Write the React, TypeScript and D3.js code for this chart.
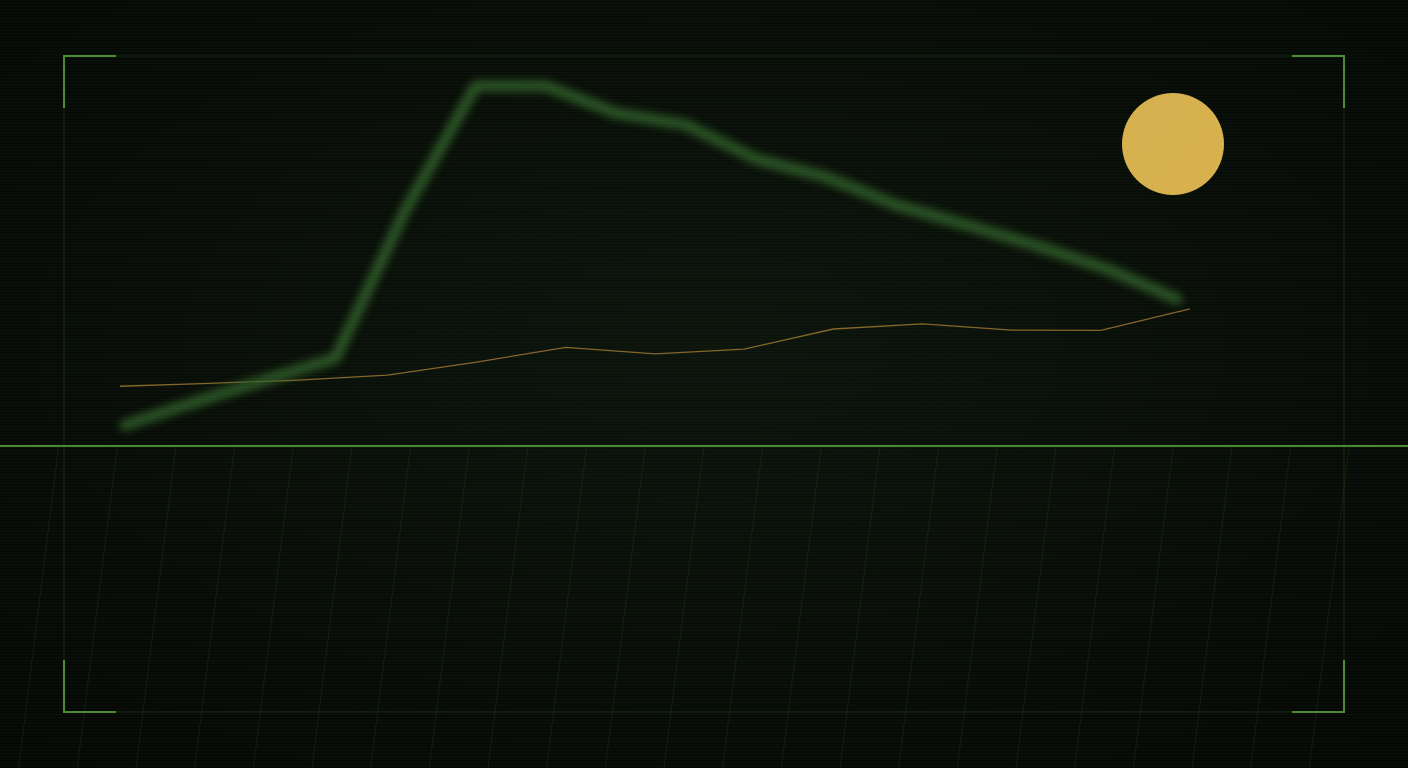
import { useRef, useEffect } from "react";
import * as d3 from "d3";

// glowing green series (16 points) and thin amber series (13 points)
const GREEN_VALUES = [5.8, 12.2, 18.3, 24.4, 65.6, 100, 100, 92.5, 89.2, 79.7, 74.7, 66.9, 61.4, 55.6, 49.2, 40.8];
const AMBER_VALUES = [16.6, 17.4, 18.3, 19.7, 23.3, 27.4, 25.6, 26.9, 32.5, 33.9, 32.2, 32.1, 38.1];
const GRID_COLUMNS = d3.range(0, 24);

const W = 1408;
const H = 768;

export default function App() {
  const ref = useRef<SVGSVGElement>(null);

  useEffect(() => {
    if (!ref.current) return;
    const svg = d3.select(ref.current);
    svg.selectAll("*").remove();

    const frame = { left: 64, top: 56, right: 1344, bottom: 712 };
    const horizon = 446;

    const defs = svg.append("defs");
    const bg = defs.append("radialGradient").attr("id", "bg").attr("cx", "50%").attr("cy", "45%").attr("r", "70%");
    bg.append("stop").attr("offset", "0%").attr("stop-color", "#0c130c");
    bg.append("stop").attr("offset", "100%").attr("stop-color", "#050805");

    const scan = defs.append("pattern").attr("id", "scan").attr("width", 4).attr("height", 3).attr("patternUnits", "userSpaceOnUse");
    scan.append("rect").attr("width", 4).attr("height", 1).attr("fill", "rgba(70,120,50,0.07)");

    defs.append("filter").attr("id", "glow").attr("x", "-10%").attr("y", "-10%").attr("width", "120%").attr("height", "120%")
      .append("feGaussianBlur").attr("stdDeviation", 4);

    const moonGrad = defs.append("linearGradient").attr("id", "moon").attr("x1", "0").attr("y1", "0").attr("x2", "1").attr("y2", "1");
    moonGrad.append("stop").attr("offset", "0%").attr("stop-color", "#d6af50");
    moonGrad.append("stop").attr("offset", "100%").attr("stop-color", "#d9b24e");

    // background
    svg.append("rect").attr("width", W).attr("height", H).attr("fill", "url(#bg)");

    // slanted ground grid below the horizon
    const colX = d3.scaleLinear().domain([0, 24]).range([0, W]);
    svg.append("g").selectAll("line").data(GRID_COLUMNS).join("line")
      .attr("x1", (d) => colX(d)).attr("y1", horizon)
      .attr("x2", (d) => colX(d) - 40).attr("y2", H)
      .attr("stroke", "rgba(60,110,45,0.2)").attr("stroke-width", 1);

    // frame
    svg.append("rect")
      .attr("x", frame.left).attr("y", frame.top)
      .attr("width", frame.right - frame.left).attr("height", frame.bottom - frame.top)
      .attr("fill", "none").attr("stroke", "rgba(60,110,40,0.3)").attr("stroke-width", 1);

    const br = 52;
    const corners: [number, number, number, number][] = [
      [frame.left, frame.top, 1, 1],
      [frame.right, frame.top, -1, 1],
      [frame.left, frame.bottom, 1, -1],
      [frame.right, frame.bottom, -1, -1],
    ];
    svg.append("g").selectAll("path").data(corners).join("path")
      .attr("d", ([x, y, sx, sy]) => `M${x + sx * br},${y}H${x}V${y + sy * br}`)
      .attr("fill", "none").attr("stroke", "#4d8c30").attr("stroke-width", 2);

    // horizon
    svg.append("line").attr("x1", 0).attr("x2", W).attr("y1", horizon).attr("y2", horizon)
      .attr("stroke", "#4a8a2f").attr("stroke-width", 2);

    // scales
    const y = d3.scaleLinear().domain([0, 100]).range([horizon, 86]);
    const xGreen = d3.scaleLinear().domain([0, GREEN_VALUES.length - 1]).range([125, 1177]);
    const xAmber = d3.scaleLinear().domain([0, AMBER_VALUES.length - 1]).range([120, 1190]);

    const greenLine = d3.line<number>().x((_, i) => xGreen(i)).y((d) => y(d));
    const amberLine = d3.line<number>().x((_, i) => xAmber(i)).y((d) => y(d));

    svg.append("path").datum(AMBER_VALUES).attr("d", amberLine)
      .attr("fill", "none").attr("stroke", "#86672a").attr("stroke-width", 1.3);

    svg.append("path").datum(GREEN_VALUES).attr("d", greenLine)
      .attr("fill", "none").attr("stroke", "#33622a").attr("stroke-width", 11)
      .attr("stroke-linejoin", "round").attr("stroke-linecap", "round")
      .attr("opacity", 0.85).attr("filter", "url(#glow)");

    // scanlines
    svg.append("rect").attr("width", W).attr("height", H).attr("fill", "url(#scan)");

    // moon
    svg.append("circle").attr("cx", 1173).attr("cy", 144).attr("r", 51).attr("fill", "url(#moon)");
  }, []);

  return (
    <svg
      ref={ref}
      width={W}
      height={H}
      style={{ position: "fixed", left: 0, top: 0, display: "block", background: "#060906" }}
    />
  );
}
